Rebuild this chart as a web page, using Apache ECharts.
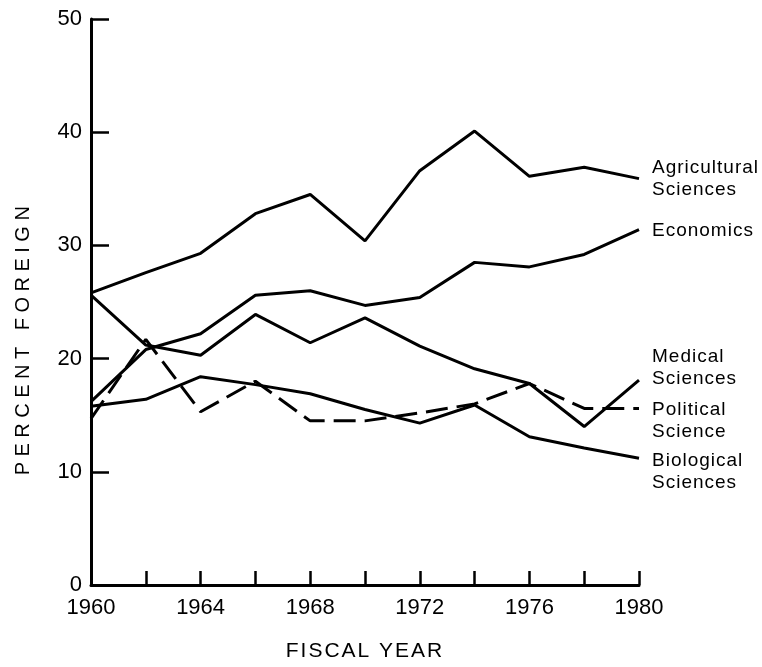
<!DOCTYPE html>
<html>
<head>
<meta charset="utf-8">
<script src="https://cdn.jsdelivr.net/npm/echarts@6/dist/echarts.min.js"></script>
<style>html,body{margin:0;padding:0;background:#fff;}#chart{width:762px;height:667px;}</style>
</head>
<body>
<div id="chart"></div>
<script>
const years = [1960, 1962, 1964, 1966, 1968, 1970, 1972, 1974, 1976, 1978, 1980];
const agricultural = [25.8, 27.6, 29.3, 32.8, 34.5, 30.4, 36.6, 40.1, 36.1, 36.9, 35.9];
const economics = [16.2, 20.8, 22.2, 25.6, 26.0, 24.7, 25.4, 28.5, 28.1, 29.2, 31.4];
const medical = [25.6, 21.2, 20.3, 23.9, 21.4, 23.6, 21.1, 19.1, 17.8, 14.0, 18.1];
const political = [14.7, 21.7, 15.3, 18.0, 14.5, 14.5, 15.2, 16.0, 17.8, 15.6, 15.6];
const biological = [15.8, 16.4, 18.4, 17.7, 16.9, 15.5, 14.3, 15.9, 13.1, 12.1, 11.2];
const yTicks = [0, 10, 20, 30, 40, 50];
const xLabelYears = [1960, 1964, 1968, 1972, 1976, 1980];

// looser letter spacing of the original typesetting, keyed by font size
(function () {
  const proto = CanvasRenderingContext2D.prototype;
  const orig = proto.fillText;
  const spacing = {'20px': '5.5px', '21px': '2px', '19px': '1px'};
  proto.fillText = function (t, x, y, m) {
    if ('letterSpacing' in this) {
      let ls = '0px';
      for (const k in spacing) { if (this.font.indexOf(k) >= 0) { ls = spacing[k]; break; } }
      this.letterSpacing = ls;
    }
    return m === undefined ? orig.call(this, t, x, y) : orig.call(this, t, x, y, m);
  };
})();

const FONT = '"Liberation Sans", Arial, Helvetica, sans-serif';
const chart = echarts.init(document.getElementById('chart'), null, {renderer: 'canvas'});

function mk(name, values, labelText, offsetY, dashed) {
  return {
    name: name,
    type: 'line',
    data: years.map((y, i) => [y, values[i]]),
    symbol: 'none',
    lineStyle: {color: '#000', width: 3, type: dashed ? [22, 9] : 'solid'},
    endLabel: {
      show: true,
      formatter: labelText,
      color: '#000',
      fontFamily: FONT,
      fontSize: 19,
      lineHeight: 22,
      distance: 13,
      offset: [0, offsetY]
    },
    z: 3
  };
}

chart.setOption({
  animation: false,
  backgroundColor: '#fff',
  grid: {left: 91, right: 123, top: 19, bottom: 77, containLabel: false},
  xAxis: {
    type: 'value', min: 1960, max: 1980, interval: 2,
    name: 'FISCAL YEAR', nameLocation: 'middle', nameGap: 56,
    nameTextStyle: {color: '#000', fontFamily: FONT, fontSize: 21},
    axisLine: {show: true, lineStyle: {color: '#000', width: 3}},
    axisTick: {show: true, inside: true, length: 14, lineStyle: {color: '#000', width: 2.5}},
    axisLabel: {
      color: '#000', fontFamily: FONT, fontSize: 22, margin: 12,
      formatter: v => xLabelYears.indexOf(v) >= 0 ? String(v) : ''
    },
    splitLine: {show: false}
  },
  yAxis: {
    type: 'value', min: yTicks[0], max: yTicks[yTicks.length - 1], interval: 10,
    name: 'PERCENT FOREIGN', nameLocation: 'middle', nameGap: 58, nameRotate: 90,
    nameTextStyle: {color: '#000', fontFamily: FONT, fontSize: 20, padding: [0, 72, 0, 0]},
    axisLine: {show: true, lineStyle: {color: '#000', width: 3}},
    axisTick: {show: true, inside: true, length: 18, lineStyle: {color: '#000', width: 2.5}},
    axisLabel: {color: '#000', fontFamily: FONT, fontSize: 22, margin: 9},
    splitLine: {show: false}
  },
  series: [
    mk('Agricultural Sciences', agricultural, 'Agricultural\nSciences', 0, false),
    mk('Economics', economics, 'Economics', 1, false),
    mk('Medical Sciences', medical, 'Medical\nSciences', -12, false),
    mk('Political Science', political, 'Political\nScience', 12, true),
    mk('Biological Sciences', biological, 'Biological\nSciences', 14, false)
  ]
});
</script>
</body>
</html>
